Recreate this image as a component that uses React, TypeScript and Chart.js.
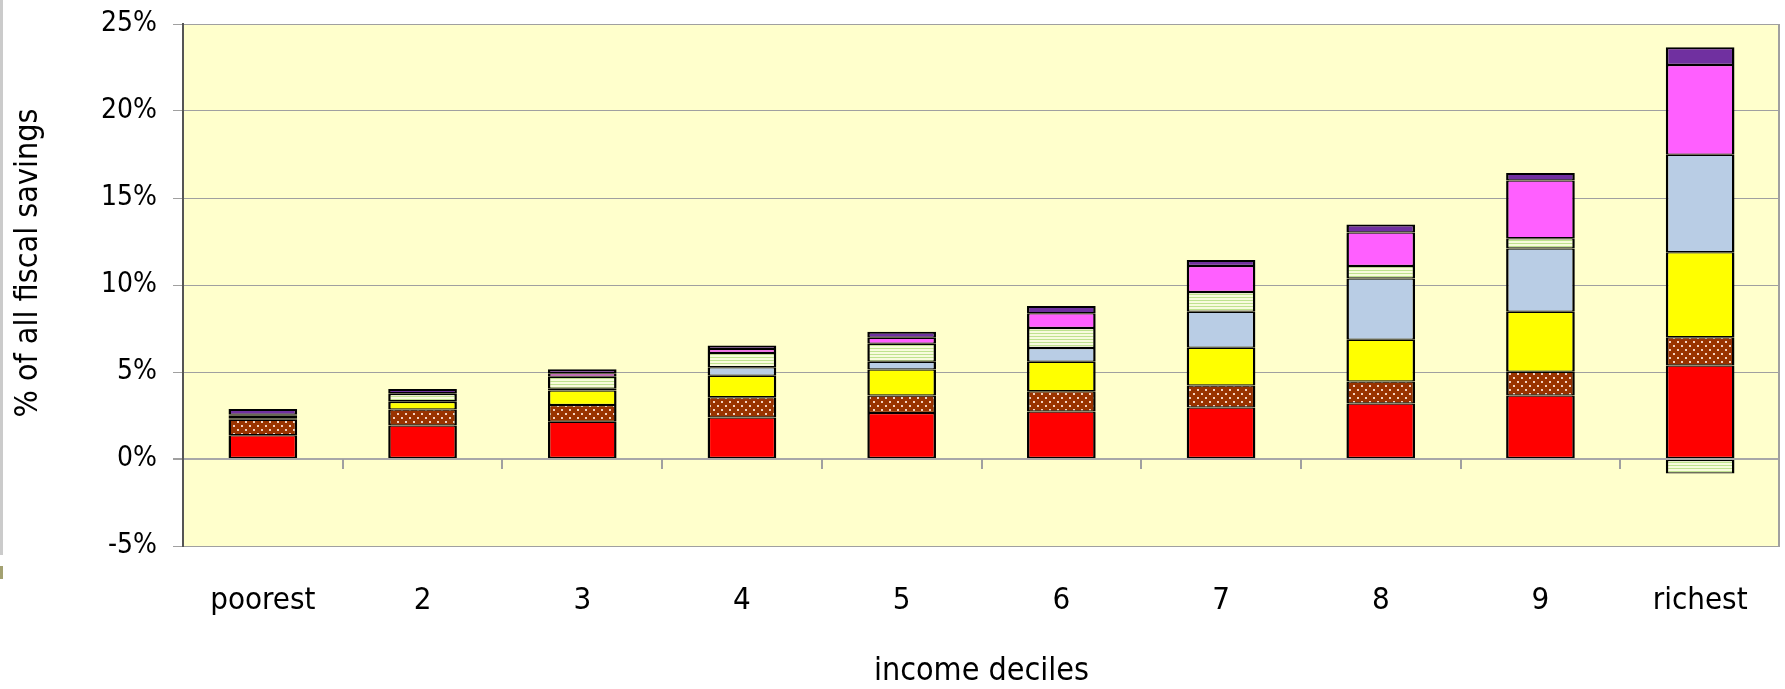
import { useEffect, useRef } from "react";
import { Chart, registerables } from "chart.js";

Chart.register(...registerables);

// Income deciles on the category axis
const deciles = ["poorest", "2", "3", "4", "5", "6", "7", "8", "9", "richest"];

// Share of all fiscal savings (%) by component, stacked bottom to top
const redShares = [1.36, 1.93, 2.14, 2.39, 2.64, 2.73, 2.96, 3.19, 3.65, 5.37];
const brownDottedShares = [0.9, 0.92, 0.96, 1.16, 1.01, 1.17, 1.26, 1.26, 1.37, 1.62];
const yellowShares = [0.08, 0.42, 0.84, 1.23, 1.49, 1.69, 2.18, 2.4, 3.44, 4.89];
const blueShares = [0.07, 0.05, 0.1, 0.49, 0.45, 0.79, 2.06, 3.53, 3.64, 5.61];
const greenStripedShares = [0.07, 0.41, 0.68, 0.82, 1.03, 1.15, 1.14, 0.71, 0.59, -0.83];
const pinkShares = [0.07, 0.05, 0.21, 0.23, 0.35, 0.85, 1.49, 1.93, 3.31, 5.15];
const purpleShares = [0.32, 0.25, 0.23, 0.21, 0.34, 0.42, 0.34, 0.45, 0.43, 1.03];

// Value axis ticks
const yMin = -5;
const yMax = 25;
const yStep = 5;

const FONT = '"DejaVu Sans Condensed", "DejaVu Sans", sans-serif';

function makePattern(
  w: number,
  h: number,
  paint: (c: CanvasRenderingContext2D) => void
): CanvasPattern | string {
  const tile = document.createElement("canvas");
  tile.width = w;
  tile.height = h;
  const c = tile.getContext("2d");
  if (!c) return "#999";
  paint(c);
  const ctx = document.createElement("canvas").getContext("2d");
  return (ctx && ctx.createPattern(tile, "repeat")) || "#999";
}

const plotDecor = {
  id: "plotDecor",
  beforeDraw(chart: any) {
    const { ctx, chartArea: a } = chart;
    ctx.save();
    ctx.fillStyle = "#FFFFCC";
    ctx.fillRect(a.left, a.top, a.right - a.left, a.bottom - a.top);
    ctx.restore();
  },
  afterDatasetsDraw(chart: any) {
    const { ctx, chartArea: a, scales } = chart;
    const y0 = scales.y.getPixelForValue(0);
    ctx.save();
    ctx.strokeStyle = "#a0a0a0";
    ctx.lineWidth = 2;
    ctx.beginPath();
    ctx.moveTo(a.right - 1, a.top);
    ctx.lineTo(a.right - 1, a.bottom);
    ctx.stroke();
    // tick marks between categories, hanging below the zero line
    const n = deciles.length;
    const step = (a.right - a.left) / n;
    for (let k = 1; k < n; k++) {
      const x = Math.round(a.left + k * step);
      ctx.beginPath();
      ctx.moveTo(x, y0);
      ctx.lineTo(x, y0 + 10);
      ctx.stroke();
    }
    ctx.restore();
  },
  afterDraw(chart: any) {
    const { ctx } = chart;
    ctx.save();
    ctx.translate(29, 263);
    ctx.rotate(-Math.PI / 2);
    ctx.fillStyle = "#000";
    ctx.font = `32px ${FONT}`;
    ctx.textAlign = "center";
    ctx.textBaseline = "middle";
    ctx.fillText("% of all fiscal savings", 0, 0);
    ctx.restore();
  },
};

export default function App() {
  const canvasRef = useRef<HTMLCanvasElement | null>(null);

  useEffect(() => {
    const canvas = canvasRef.current;
    if (!canvas) return;

    const dotted = makePattern(8, 8, (c) => {
      c.fillStyle = "#993300";
      c.fillRect(0, 0, 8, 8);
      c.fillStyle = "#f3d2c2";
      c.fillRect(1, 1, 2, 2);
      c.fillRect(5, 5, 2, 2);
    });
    const striped = makePattern(4, 3, (c) => {
      c.fillStyle = "#f8fbdc";
      c.fillRect(0, 0, 4, 3);
      c.fillStyle = "#bfe28e";
      c.fillRect(0, 0, 4, 1);
    });

    const border = { top: 1.25, bottom: 1.25, left: 2.5, right: 2.5 };
    const series = [
      { data: redShares, fill: "#FF0000" },
      { data: brownDottedShares, fill: dotted },
      { data: yellowShares, fill: "#FFFF00" },
      { data: blueShares, fill: "#B9CDE5" },
      { data: greenStripedShares, fill: striped },
      { data: pinkShares, fill: "#FF5FFF" },
      { data: purpleShares, fill: "#7030A0" },
    ];

    const chart = new Chart(canvas, {
      type: "bar",
      data: {
        labels: deciles,
        datasets: series.map((s, i) => ({
          data: s.data,
          backgroundColor: s.fill as any,
          borderColor: "#000",
          borderWidth: i === series.length - 1 ? { ...border, top: 2 } : border,
          borderSkipped: false,
          barPercentage: 0.43,
          categoryPercentage: 1,
        })),
      },
      options: {
        responsive: false,
        animation: false,
        devicePixelRatio: 1,
        layout: { padding: { top: 24, right: 5, left: 0, bottom: 0 } },
        plugins: {
          legend: { display: false },
          tooltip: { enabled: false },
        },
        scales: {
          x: {
            stacked: true,
            grid: { display: false, drawTicks: false },
            border: { display: false },
            ticks: {
              color: "#000",
              font: { family: FONT, size: 31, lineHeight: 1.2 },
              padding: 36,
              maxRotation: 0,
              autoSkip: false,
            },
            title: {
              display: true,
              text: "income deciles",
              color: "#000",
              font: { family: FONT, size: 32, lineHeight: 1 },
              padding: { top: 0, bottom: 1 },
            },
            afterFit(scale: any) {
              scale.height = 143;
            },
          },
          y: {
            stacked: true,
            min: yMin,
            max: yMax,
            grid: {
              color: (c: any) => (c.tick && c.tick.value === 0 ? "#a8a8a8" : "#a0a0a0"),
              lineWidth: (c: any) => (c.tick && c.tick.value === 0 ? 2 : 1),
              tickLength: 10,
              tickColor: "#a0a0a0",
            },
            border: { display: true, color: "#555", width: 2 },
            ticks: {
              stepSize: yStep,
              color: "#000",
              font: { family: FONT, size: 28 },
              padding: 16,
              callback: (v: any) => `${v}%`,
            },
            afterFit(scale: any) {
              scale.width = 183;
              scale.paddingTop = 0;
              scale.paddingBottom = 0;
            },
          },
        },
      },
      plugins: [plotDecor],
    });

    return () => chart.destroy();
  }, []);

  return (
    <div style={{ position: "absolute", left: 0, top: 0, width: 1785, height: 689, background: "#fff" }}>
      <div style={{ position: "absolute", left: 0, top: 0, width: 3, height: 555, background: "#cbcbcb" }} />
      <div style={{ position: "absolute", left: 0, top: 566, width: 3, height: 13, background: "#a3a171" }} />
      <canvas
        ref={canvasRef}
        width={1785}
        height={689}
        style={{ display: "block", width: 1785, height: 689 }}
      />
    </div>
  );
}
